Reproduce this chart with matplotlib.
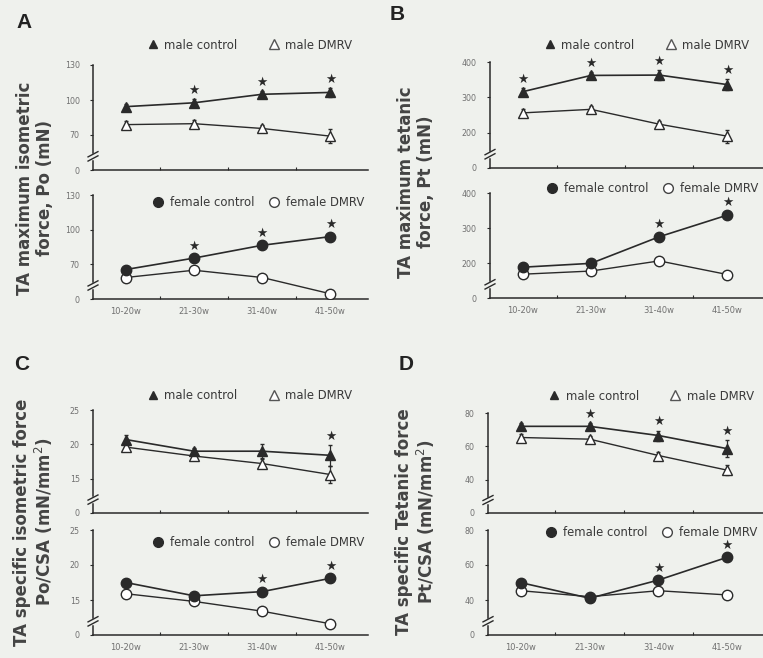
import matplotlib
matplotlib.use("Agg")
import matplotlib.pyplot as plt
from matplotlib.lines import Line2D

plt.rcParams['font.family'] = ['DejaVu Sans']

categories = ["10-20w", "21-30w", "31-40w", "41-50w"]

# Panel A: max isometric force Po (mN)
A_male_ctrl = [94.3, 97.6, 104.9, 106.5]
A_male_ctrl_err = [2, 3, 3, 4]
A_male_dmrv = [78.9, 79.7, 75.6, 69.0]
A_male_dmrv_err = [3, 3, 3, 6]
A_fem_ctrl = [65.5, 75.4, 86.5, 94.0]
A_fem_ctrl_err = [3, 3, 3, 3]
A_fem_dmrv = [58.6, 64.9, 58.6, 44.5]
A_fem_dmrv_err = [3, 3, 3, 3]
A_male_stars = [1, 2, 3]
A_fem_stars = [1, 2, 3]

# Panel B: max tetanic force Pt (mN)
B_male_ctrl = [316, 362, 363, 336]
B_male_ctrl_err = [10, 10, 15, 15]
B_male_dmrv = [256, 266, 224, 190]
B_male_dmrv_err = [10, 10, 10, 18]
B_fem_ctrl = [188, 199, 275, 337]
B_fem_ctrl_err = [10, 10, 12, 12]
B_fem_dmrv = [168, 177, 206, 167]
B_fem_dmrv_err = [10, 8, 10, 10]
B_male_stars = [0, 1, 2, 3]
B_fem_stars = [2, 3]

# Panel C: specific isometric force Po/CSA
C_male_ctrl = [20.7, 19.0, 19.0, 18.4]
C_male_ctrl_err = [0.7, 0.5, 1.0, 1.5]
C_male_dmrv = [19.6, 18.3, 17.2, 15.6]
C_male_dmrv_err = [0.5, 0.5, 0.6, 1.2]
C_fem_ctrl = [17.5, 15.6, 16.2, 18.1]
C_fem_ctrl_err = [0.5, 0.4, 0.5, 0.5]
C_fem_dmrv = [15.9, 14.8, 13.4, 11.6]
C_fem_dmrv_err = [0.5, 0.4, 0.5, 0.6]
C_male_stars = [3]
C_fem_stars = [2, 3]

# Panel D: specific tetanic force Pt/CSA
D_male_ctrl = [72.0, 72.0, 66.5, 58.6]
D_male_ctrl_err = [2, 2, 3, 5]
D_male_dmrv = [65.3, 64.3, 54.5, 45.7]
D_male_dmrv_err = [2, 2, 2, 3]
D_fem_ctrl = [49.9, 41.0, 51.4, 64.4]
D_fem_ctrl_err = [2, 1, 2, 2]
D_fem_dmrv = [45.3, 41.9, 45.3, 42.9]
D_fem_dmrv_err = [1, 1, 1, 1]
D_male_stars = [1, 2, 3]
D_fem_stars = [2, 3]

W, H = 763, 658
BG = '#eff1ed'
LC = '#2a2a2a'
TC = '#707070'

fig = plt.figure(figsize=(W / 100, H / 100), dpi=100, facecolor=BG)


def box(x0, x1, ytop, ybot):
    return [x0 / W, 1 - ybot / H, (x1 - x0) / W, (ybot - ytop) / H]


def panel(rect, ylo, ticks, ctrl, ctrl_err, dmrv, dmrv_err, stars, sex, show_xlabels, leg_xy):
    ax = fig.add_axes(rect, facecolor=BG)
    x = list(range(len(categories)))
    mk = '^' if sex == 'male' else 'o'
    ms = 7 if sex == 'male' else 7.5
    ax.errorbar(x, dmrv, yerr=dmrv_err, color=LC, lw=1.0, marker=mk, ms=ms,
                mfc='white', mec=LC, mew=1.0, capsize=1.5, elinewidth=0.9, zorder=3)
    ax.errorbar(x, ctrl, yerr=ctrl_err, color=LC, lw=1.2, marker=mk, ms=ms,
                mfc=LC, mec=LC, capsize=1.5, elinewidth=0.9, zorder=4)
    for i in stars:
        ax.annotate('★', (x[i], ctrl[i] + ctrl_err[i]), xytext=(0, 1.5),
                    textcoords='offset points', ha='center', va='bottom',
                    fontsize=9, color=LC)
    ax.set_xlim(-0.48, 3.55)
    ax.set_ylim(ylo, ticks[-1])
    ax.set_yticks([ylo] + ticks)
    ax.set_yticklabels(['0'] + [str(t) for t in ticks])
    ax.set_xticks([0.5, 1.5, 2.5], minor=True)
    ax.set_xticks(x)
    if show_xlabels:
        ax.set_xticklabels(categories)
    else:
        ax.set_xticklabels([])
    ax.tick_params(axis='x', which='major', length=0, labelsize=6, labelcolor=TC, pad=6)
    ax.tick_params(axis='x', which='minor', length=2.5, width=0.8, color=LC, direction='in')
    ax.tick_params(axis='y', length=2.5, width=0.8, color=LC, direction='out',
                   labelsize=5.7, labelcolor=TC, pad=7)
    for s in ['top', 'right']:
        ax.spines[s].set_visible(False)
    for s in ['left', 'bottom']:
        ax.spines[s].set_linewidth(1.1)
        ax.spines[s].set_color(LC)
    # axis break marks
    for yb in (0.11, 0.15):
        ax.plot([-0.018, 0.018], [yb - 0.025, yb + 0.025], transform=ax.transAxes,
                color=LC, lw=1.0, clip_on=False, zorder=6)
    ax.plot([0, 0], [0.115, 0.145], transform=ax.transAxes, color=BG, lw=2.5,
            clip_on=False, zorder=5)
    if sex == 'male':
        handles = [Line2D([], [], ls='none', marker='^', ms=5.5, mfc=LC, mec=LC),
                   Line2D([], [], ls='none', marker='^', ms=7, mfc='white', mec='#555555')]
        labels = ['male control', 'male DMRV']
    else:
        handles = [Line2D([], [], ls='none', marker='o', ms=7, mfc=LC, mec=LC),
                   Line2D([], [], ls='none', marker='o', ms=7, mfc='white', mec='#444444')]
        labels = ['female control', 'female DMRV']
    ax.legend(handles, labels, ncol=2, loc='center', bbox_to_anchor=leg_xy, frameon=False,
              fontsize=8.4, labelcolor='#3a3a3a', handletextpad=0.5,
              columnspacing=2.6 if sex == 'male' else 1.2,
              handlelength=1.0, borderaxespad=0)
    return ax


# Panel A
panel(box(93, 368, 65, 170), 40, [70, 100, 130], A_male_ctrl, A_male_ctrl_err,
      A_male_dmrv, A_male_dmrv_err, A_male_stars, 'male', False, (0.57, 1.19))
panel(box(93, 368, 195, 299), 40, [70, 100, 130], A_fem_ctrl, A_fem_ctrl_err,
      A_fem_dmrv, A_fem_dmrv_err, A_fem_stars, 'female', True, (0.6, 0.93))
# Panel B
panel(box(490, 765, 62, 168), 100, [200, 300, 400], B_male_ctrl, B_male_ctrl_err,
      B_male_dmrv, B_male_dmrv_err, B_male_stars, 'male', False, (0.57, 1.16))
panel(box(490, 765, 193, 298), 100, [200, 300, 400], B_fem_ctrl, B_fem_ctrl_err,
      B_fem_dmrv, B_fem_dmrv_err, B_fem_stars, 'female', True, (0.59, 1.04))
# Panel C
panel(box(93, 368, 410, 513), 10, [15, 20, 25], C_male_ctrl, C_male_ctrl_err,
      C_male_dmrv, C_male_dmrv_err, C_male_stars, 'male', False, (0.57, 1.14))
panel(box(93, 368, 530, 635), 10, [15, 20, 25], C_fem_ctrl, C_fem_ctrl_err,
      C_fem_dmrv, C_fem_dmrv_err, C_fem_stars, 'female', True, (0.6, 0.88))
# Panel D
panel(box(488, 765, 413, 513), 20, [40, 60, 80], D_male_ctrl, D_male_ctrl_err,
      D_male_dmrv, D_male_dmrv_err, D_male_stars, 'male', False, (0.59, 1.17))
panel(box(488, 765, 530, 635), 20, [40, 60, 80], D_fem_ctrl, D_fem_ctrl_err,
      D_fem_dmrv, D_fem_dmrv_err, D_fem_stars, 'female', True, (0.59, 0.98))

# Panel letters
for letter, (px, py) in {'A': (24, 23), 'B': (397, 15), 'C': (22, 365), 'D': (406, 365)}.items():
    fig.text(px / W, 1 - py / H, letter, fontsize=15, fontweight='bold', color='#222222',
             ha='center', va='center', family=['Liberation Sans'])

# y labels
ylabels = [
    ("TA maximum isometric\nforce, Po (mN)", 35, 188),
    ("TA maximum tetanic\nforce, Pt (mN)", 416, 182),
    ("TA specific isometric force\nPo/CSA (mN/mm$^2$)", 34, 522),
    ("TA specific Tetanic force\nPt/CSA (mN/mm$^2$)", 416, 522),
]
for txt, px, py in ylabels:
    fig.text(px / W, 1 - py / H, txt, rotation=90, ha='center', va='center',
             multialignment='center', fontsize=12, fontweight='bold', color='#444444',
             linespacing=1.1)

fig.savefig('out.png', dpi=100, facecolor=BG)
